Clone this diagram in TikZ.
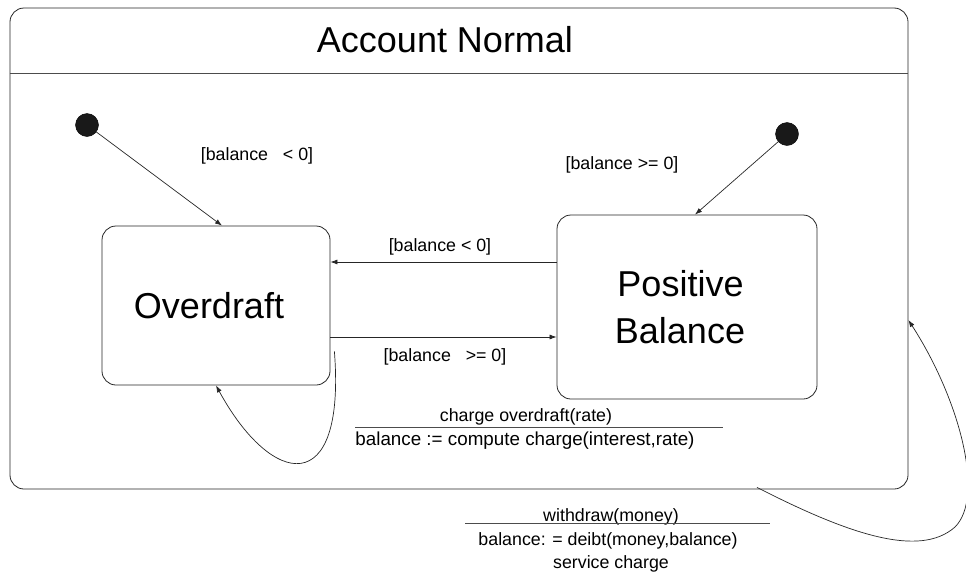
\documentclass[tikz,border=0pt]{standalone}
\usepackage{fontspec}
\setmainfont{Liberation Sans}
\usetikzlibrary{arrows.meta,positioning,calc}
\tikzset{
  >={Latex[length=7pt,width=5pt]},
  % tillstånd
  st/.style={draw=black!85,rounded corners=14pt,line width=0.8pt,inner sep=0pt,
             align=center,font=\fontsize{36}{47}\selectfont},
  ttl/.style={font=\fontsize{36}{42}\selectfont,inner sep=0pt},
  ini/.style={circle,fill=black!90,draw=black,inner sep=0pt,minimum size=23pt},
  % övergångar
  tr/.style={->,draw=black!85,line width=0.7pt},
  gd/.style={font=\fontsize{17.8}{21}\selectfont,inner sep=1pt},
  act/.style={font=\fontsize{17.8}{21}\selectfont,inner sep=1pt,align=center},
  bar/.style={draw=black!70,line width=0.8pt},
}
\begin{document}
\begin{tikzpicture}[x=1pt,y=-1pt]
  \useasboundingbox (0,0) rectangle (966,573);
  \node[st,minimum width=898pt,minimum height=481pt] (acct) at (459,248.5) {};
  \node[ttl] (title) at (445,40) {Account Normal};
  \coordinate (sep) at (0,73);
  \draw[bar] (acct.west |- sep) -- (acct.east |- sep);
  \node[st,minimum width=228pt,minimum height=159pt] (od) at (216,305.5) {Overdraft\hspace*{14pt}};
  \node[st,minimum width=260pt,minimum height=184pt] (pb) at (687,307)
    {Positive\hspace*{13pt}\\Balance\hspace*{14pt}};
  \node[ini] (i1) at (87,125) {};
  \node[ini] (i2) at (787,134) {};
  \draw[tr] (i1) -- ([xshift=6pt]od.north);
  \draw[tr] (i2) -- ([xshift=8pt]pb.north);
  \draw[tr] ([yshift=45pt]pb.west) -- ([yshift=45pt]pb.west -| od.east);
  \draw[tr] ([yshift=-31.5pt]od.east) -- ([yshift=-31.5pt]od.east -| pb.west);
  \draw[tr] ([xshift=4pt,yshift=-46pt]od.east) .. controls (346,500) and (272,488) .. (od.south);
  \draw[tr] ([xshift=298pt,yshift=2pt]acct.south) .. controls (850,535) and (920,558) .. (955,527)
    .. controls (985,497) and (960,400) .. ([yshift=-71.5pt]acct.east);
  \node[gd] (g1) at (257,156) {[balance~~~< 0]};
  \node[gd] (g2) at (622,165) {[balance >= 0]};
  \node[gd] (g3) at (440,247) {[balance < 0]};
  \node[gd] (g4) at (445,357) {[balance~~~>= 0]};
  \node[act] (a1) at (526,417) {charge overdraft(rate)};
  \draw[bar] (355,427) -- (723,427);
  \node[act,font=\fontsize{18.8}{21}\selectfont] (a2) at (525,441) {balance := compute charge(interest,rate)};
  \node[act] (a3) at (611,517) {withdraw(money)};
  \draw[bar] (465,523) -- (770,523);
  \node[act] (a4) at (608,541) {balance: = deibt(money,balance)};
  \node[act] (a5) at (611,564) {service charge};
\end{tikzpicture}
\end{document}
